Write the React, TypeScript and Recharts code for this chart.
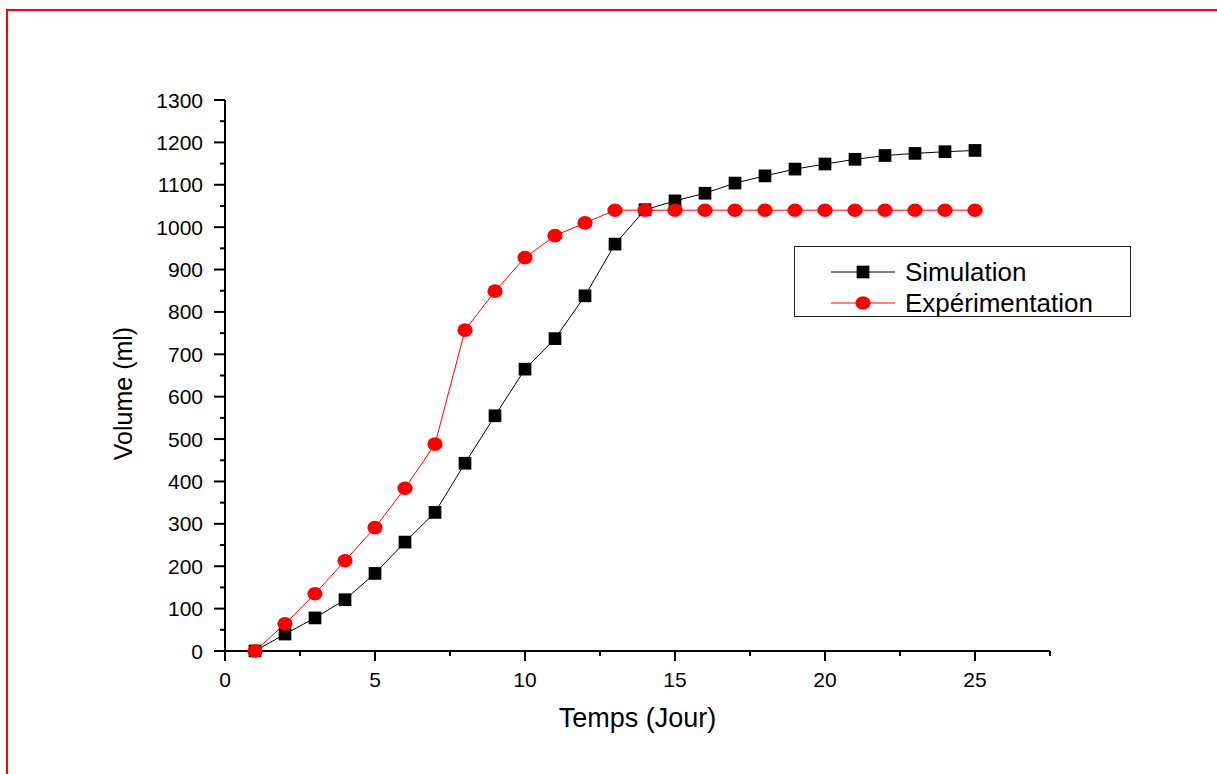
import React from 'react';
import { LineChart, Line, XAxis, YAxis, Legend } from 'recharts';

const days = [1, 2, 3, 4, 5, 6, 7, 8, 9, 10, 11, 12, 13, 14, 15, 16, 17, 18, 19, 20, 21, 22, 23, 24, 25];
const simulation = [0, 40, 78, 121, 183, 257, 327, 443, 555, 665, 737, 838, 960, 1041, 1062, 1080, 1104, 1121, 1137, 1149, 1160, 1169, 1174, 1178, 1181];
const experimentation = [0, 64, 135, 213, 291, 384, 488, 757, 849, 928, 980, 1010, 1040, 1040, 1040, 1040, 1040, 1040, 1040, 1040, 1040, 1040, 1040, 1040, 1040];

const seriesNames = ['Simulation', 'Expérimentation'];
const xTicks = [0, 2.5, 5, 7.5, 10, 12.5, 15, 17.5, 20, 22.5, 25, 27.5];
const xLabeled = [0, 5, 10, 15, 20, 25];
const yTicks = [0, 50, 100, 150, 200, 250, 300, 350, 400, 450, 500, 550, 600, 650, 700, 750, 800, 850, 900, 950, 1000, 1050, 1100, 1150, 1200, 1250, 1300];
const yLabeled = [0, 100, 200, 300, 400, 500, 600, 700, 800, 900, 1000, 1100, 1200, 1300];

const xTitle = 'Temps (Jour)';
const yTitle = 'Volume (ml)';

const data = days.map((d, i) => ({ day: d, sim: simulation[i], exp: experimentation[i] }));

const FONT = '"Liberation Sans", Arial, sans-serif';

const XTick = (props: any) => {
  const { x, y, payload } = props;
  const v = payload.value;
  const major = xLabeled.includes(v);
  return (
    <g>
      <line x1={x} x2={x} y1={y} y2={y + (major ? 10 : 5)} stroke="#000" strokeWidth={2} />
      {major && (
        <text x={x} y={y + 36} textAnchor="middle" fontSize={21} fontFamily={FONT} fill="#000">
          {v}
        </text>
      )}
    </g>
  );
};

const YTick = (props: any) => {
  const { x, y, payload } = props;
  const v = payload.value;
  const major = yLabeled.includes(v);
  return (
    <g>
      <line x1={x} x2={x - (major ? 11 : 5)} y1={y} y2={y} stroke="#000" strokeWidth={2} />
      {major && (
        <text x={x - 22} y={y} textAnchor="end" dominantBaseline="central" fontSize={21} fontFamily={FONT} fill="#000">
          {v}
        </text>
      )}
    </g>
  );
};

const SquareDot = (props: any) => {
  const { cx, cy } = props;
  if (cx == null || cy == null) return null;
  const s = 12.7;
  return <rect x={cx - s / 2} y={cy - s / 2} width={s} height={s} fill="#000" />;
};

const CircleDot = (props: any) => {
  const { cx, cy } = props;
  if (cx == null || cy == null) return null;
  return <ellipse cx={cx} cy={cy} rx={7.6} ry={6.8} fill="#ff0000" />;
};

const renderLegend = (props: any) => {
  const payload = [...(props.payload || [])].sort(
    (a: any, b: any) => seriesNames.indexOf(a.value) - seriesNames.indexOf(b.value)
  );
  return (
    <div
      style={{
        width: 337,
        height: 71,
        border: '1px solid #222',
        boxSizing: 'border-box',
        position: 'relative',
        background: '#fff',
        fontFamily: FONT,
      }}
    >
      {payload.map((entry: any, i: number) => {
        const isSim = entry.value === seriesNames[0];
        return (
          <div
            key={i}
            style={{
              position: 'absolute',
              left: 0,
              top: i === 0 ? 10 : 41,
              height: 30,
              display: 'flex',
              alignItems: 'center',
            }}
          >
            <svg width={64} height={20} style={{ marginLeft: 36, display: 'block' }}>
              <line x1={0} x2={64} y1={10} y2={10} stroke={isSim ? '#000' : '#ff0000'} strokeWidth={1} />
              {isSim ? (
                <rect x={32 - 6.35} y={10 - 6.35} width={12.7} height={12.7} fill="#000" />
              ) : (
                <ellipse cx={32} cy={10} rx={7.6} ry={6.8} fill="#ff0000" />
              )}
            </svg>
            <span style={{ marginLeft: 10, fontSize: 26, color: '#000', lineHeight: '30px' }}>{entry.value}</span>
          </div>
        );
      })}
    </div>
  );
};

export default function App() {
  return (
    <div style={{ position: 'absolute', left: 0, top: 0, width: 1217, height: 774, background: '#fff' }}>
      <div style={{ position: 'absolute', left: 6, top: 9, width: 2, height: 765, background: '#ff0000' }} />
      <div style={{ position: 'absolute', left: 6, top: 9, width: 1211, height: 2, background: '#ff0000' }} />
      <div style={{ position: 'absolute', left: 0, top: 0 }}>
        <LineChart width={1217} height={774} data={data} margin={{ top: 100, right: 167, bottom: 63, left: 95 }}>
          <XAxis
            dataKey="day"
            type="number"
            domain={[0, 27.5]}
            ticks={xTicks}
            interval={0}
            height={60}
            tickSize={0}
            tickMargin={0}
            tickLine={false}
            axisLine={{ stroke: '#000', strokeWidth: 2 }}
            tick={<XTick />}
            label={(p: any) => {
              const vb = p.viewBox || { x: 225, y: 651, width: 825, height: 60 };
              return (
                <text
                  x={vb.x + vb.width / 2}
                  y={vb.y + 76}
                  textAnchor="middle"
                  fontSize={27}
                  fontFamily={FONT}
                  fill="#000"
                >
                  {xTitle}
                </text>
              );
            }}
          />
          <YAxis
            type="number"
            domain={[0, 1300]}
            ticks={yTicks}
            interval={0}
            width={130}
            tickSize={0}
            tickMargin={0}
            tickLine={false}
            axisLine={{ stroke: '#000', strokeWidth: 2 }}
            tick={<YTick />}
            label={(p: any) => {
              const vb = p.viewBox || { x: 95, y: 100, width: 130, height: 551 };
              const cx = vb.x + vb.width - 102;
              const cy = vb.y + vb.height / 2 + 18;
              return (
                <text
                  x={cx}
                  y={cy}
                  transform={`rotate(-90, ${cx}, ${cy})`}
                  textAnchor="middle"
                  dominantBaseline="central"
                  fontSize={25}
                  fontFamily={FONT}
                  fill="#000"
                >
                  {yTitle}
                </text>
              );
            }}
          />
          <Legend
            content={renderLegend}
            layout="horizontal"
            align="center"
            verticalAlign="middle"
            wrapperStyle={{ position: 'absolute', left: 794, top: 246, width: 337, height: 71 }}
          />
          <Line
            type="linear"
            dataKey="sim"
            name={seriesNames[0]}
            stroke="#000"
            strokeWidth={1}
            dot={<SquareDot />}
            activeDot={false}
            isAnimationActive={false}
          />
          <Line
            type="linear"
            dataKey="exp"
            name={seriesNames[1]}
            stroke="#ff0000"
            strokeWidth={1}
            dot={<CircleDot />}
            activeDot={false}
            isAnimationActive={false}
          />
        </LineChart>
      </div>
    </div>
  );
}
